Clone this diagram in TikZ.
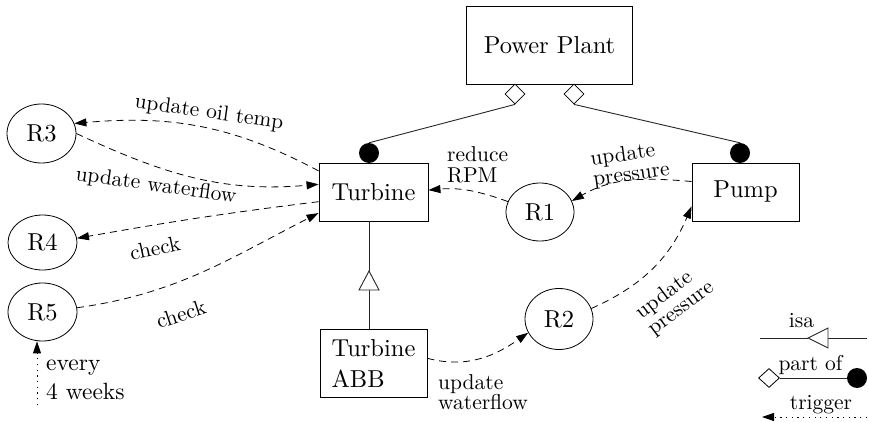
\documentclass[tikz,border=0pt]{standalone}
\usepackage{fontspec}
\setmainfont{lmroman10-regular.otf}
\usetikzlibrary{arrows.meta,shapes.geometric}
\newcommand\pnodefont{\fontsize{24.5}{31}\selectfont}
\newcommand\plblfont{\fontsize{21.5}{20.5}\selectfont}
\begin{document}
\begin{tikzpicture}[x=1pt,y=1pt,
  box/.style={draw, line width=0.9pt, inner sep=0pt, font=\pnodefont},
  rulenode/.style={draw, ellipse, line width=0.8pt, inner sep=0pt, font=\pnodefont},
  lbl/.style={font=\plblfont, inner sep=0pt},
  solidline/.style={line width=0.9pt, draw=black!85},
  trig/.style={line width=0.8pt, dash pattern=on 7pt off 5pt, -{Triangle[length=12pt,width=8pt]}},
  trigdot/.style={line width=0.9pt, dash pattern=on 1.2pt off 4.5pt, -{Triangle[length=12pt,width=8pt]}},
  partdia/.style={diamond, draw, fill=white, line width=0.8pt, inner sep=0pt, minimum width=20pt, minimum height=20pt},
  partdot/.style={circle, fill=black, inner sep=0pt, minimum size=20pt}
]
\useasboundingbox (0,0) rectangle (869,-422);

% classes
\node[box, minimum width=165.6pt, minimum height=78pt] (pp) at (549.5,-45) {Power Plant};
\node[box, minimum width=109pt, minimum height=58pt] (turb) at (373.5,-192) {Turbine};
\node[box, minimum width=107pt, minimum height=58pt] (pump) at (745.5,-192) {Pump};
\node[box, minimum width=107pt, minimum height=68pt, align=left] (abb) at (373.5,-363) {Turbine\\ABB};

% rules
\node[rulenode, minimum width=68pt, minimum height=58pt] (r1) at (540,-212) {R1};
\node[rulenode, minimum width=68pt, minimum height=61pt] (r2) at (559,-319) {R2};
\node[rulenode, minimum width=69pt, minimum height=59pt] (r3) at (41.5,-133.5) {R3};
\node[rulenode, minimum width=69pt, minimum height=55pt] (r4) at (42.5,-242.5) {R4};
\node[rulenode, minimum width=69pt, minimum height=58pt] (r5) at (42.5,-312) {R5};

% part of
\node[partdia] (d1) at (515,-94) {};
\node[partdia] (d2) at (574,-94) {};
\node[partdot] (c1) at (369,-153) {};
\node[partdot] (c2) at (740,-153) {};
\draw[solidline] (d1.south) -- (c1.north);
\draw[solidline] (d2.south) -- (c2.north);

% isa
\coordinate (isatip) at (369,-271);
\coordinate (isabase) at (369,-290);
\draw[solidline] (turb.south -| isatip) -- (isatip);
\draw[solidline] (isabase) -- (abb.north -| isabase);
\draw[solidline, fill=white] (isatip) -- ([xshift=-10pt]isabase) -- ([xshift=10pt]isabase) -- cycle;

% triggers
\draw[trig] (turb.159) to[out=152,in=5] (r3.17);
\draw[trig] (r3.0) to[out=-25,in=185] (turb.172);
\draw[trig] (turb.190) to[out=187,in=10] (r4.7);
\draw[trig] (r5.7) to[out=8,in=207] (turb.201);
\draw[trig] (r1.162) to[out=160,in=5] (turb.2);
\draw[trig] (pump.169) to[out=175,in=30] (r1.19);
\draw[trig] (abb.5) to[out=-15,in=215] (r2.204);
\draw[trig] (r2.18) to[out=24,in=247] (pump.195);

\coordinate (evb) at (37,-405);
\draw[trigdot] (evb) -- (r5.south -| evb);

% labels
\node[lbl, rotate=-8] (l1) at (209,-113) {update oil temp};
\node[lbl, rotate=-8] (l2) at (156,-186) {update waterflow};
\node[lbl, rotate=12] (l3) at (155,-248) {check};
\node[lbl, rotate=18] (l4) at (181,-314) {check};
\node[lbl, align=left, anchor=west] (l5) at (447,-165) {reduce\\RPM};
\node[lbl, align=left, rotate=8] (l6) at (630,-165) {update\\pressure};
\node[lbl, align=left, rotate=37] (l7) at (675,-300) {update\\pressure};
\node[lbl, align=left, anchor=west] (l8) at (438,-392) {update\\waterflow};
\node[lbl, align=left, anchor=west, font=\fontsize{23.5}{29}\selectfont] (ev) at (46,-380) {every\\4 weeks};

% legend
\coordinate (lisaL) at (760,-338);
\coordinate (lisaR) at (867,-338);
\coordinate (lisatip) at (808,-338);
\coordinate (lisabase) at (828,-338);
\draw[solidline] (lisaL) -- (lisatip);
\draw[solidline] (lisabase) -- (lisaR);
\draw[solidline, fill=white] (lisatip) -- ([yshift=10pt]lisabase) -- ([yshift=-10pt]lisabase) -- cycle;
\node[lbl] (lisa) at (801.5,-321) {isa};

\node[partdia, minimum width=21pt, minimum height=19pt] (ld) at (769,-378) {};
\node[partdot] (lc) at (857,-378) {};
\draw[solidline] (ld.east) -- (lc.west);
\node[lbl] (lpart) at (810.5,-365.5) {part of};

\coordinate (ltrigR) at (867,-417);
\coordinate (ltrigL) at (762,-417);
\draw[trigdot] (ltrigR) -- (ltrigL);
\node[lbl] (ltrig) at (821,-404.5) {trigger};
\end{tikzpicture}
\end{document}
